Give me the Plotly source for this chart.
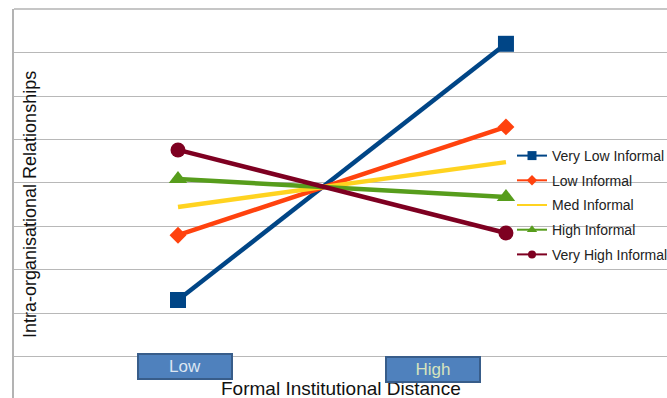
import plotly.graph_objects as go

# ---- data ----
categories = ["Low", "High"]
series_names = ["Very Low Informal", "Low Informal", "Med Informal", "High Informal", "Very High Informal"]
very_low = [1.31, 7.20]
low = [2.80, 5.29]
med = [3.45, 4.48]
high = [4.09, 3.68]
very_high = [4.76, 2.85]
y_title = "Intra-organisational Relationships"
x_title = "Formal Institutional Distance"

values = [very_low, low, med, high, very_high]
colors = ["#004586", "#ff420e", "#ffd320", "#579d1c", "#7e0021"]
symbols = ["square", "diamond", None, "triangle-up", "circle"]
sizes = [16, 13, 0, 16, 15]
leg_sizes = [9, 8, 0, 9, 8]

xpos = list(range(len(categories)))

# plot area spans page px x 14..667, y 9..398
PL, PT, PW, PH = 14, 9, 653, 389


def px(X):
    return (X - PL) / PW


def py(Y):
    return 1 - (Y - PT) / PH


fig = go.Figure()
for i, (name, vals) in enumerate(zip(series_names, values)):
    mk = dict(color=colors[i], size=sizes[i], symbol=symbols[i]) if symbols[i] else None
    fig.add_trace(go.Scatter(
        x=xpos, y=vals, mode="lines+markers" if mk else "lines",
        line=dict(color=colors[i], width=4.5), marker=mk,
        showlegend=False, hoverinfo="skip"))
for i, name in enumerate(series_names):
    mk = dict(color=colors[i], size=leg_sizes[i], symbol=symbols[i]) if symbols[i] else None
    fig.add_trace(go.Scatter(
        x=[None], y=[None], name=name, mode="lines+markers" if mk else "lines",
        line=dict(color=colors[i], width=2), marker=mk,
        legendgroup=name, showlegend=True))

fig.update_layout(
    width=667, height=398,
    margin=dict(l=14, r=0, t=9, b=0, autoexpand=False),
    plot_bgcolor="white", paper_bgcolor="white",
    font=dict(family="Liberation Sans, Arial, sans-serif", color="#000000"),
    xaxis=dict(range=[-0.5, 1.491], showgrid=False, zeroline=False,
               showticklabels=False, showline=False, ticks=""),
    yaxis=dict(range=[-0.943, 8.0], tickvals=list(range(0, 9)), showgrid=True,
               gridcolor="#b8b8b8", gridwidth=1.4, zeroline=False,
               showticklabels=False, showline=True, linecolor="#b3b3b3",
               linewidth=1.5, ticks=""),
    legend=dict(x=px(512), y=py(140), xanchor="left", yanchor="top",
                bgcolor="rgba(0,0,0,0)", font=dict(size=14, color="#222222"),
                tracegroupgap=3.5, traceorder="grouped"),
    showlegend=True,
)

# top border line
fig.add_shape(type="line", xref="paper", yref="paper", x0=0, x1=1, y0=1, y1=1,
              line=dict(color="#b3b3b3", width=1.5))

# axis titles
fig.add_annotation(text=y_title, xref="paper", yref="paper",
                   x=px(30), y=py(205), xanchor="center", yanchor="middle",
                   textangle=-90, showarrow=False,
                   font=dict(size=18, color="#111111"))
fig.add_annotation(text=x_title, xref="paper", yref="paper",
                   x=px(341), y=py(388), xanchor="center", yanchor="middle",
                   showarrow=False, font=dict(size=19, color="#111111"))

# category boxes
box_centers = [(185, 366), (433, 369)]
txt_colors = ["#dce6f2", "#d7e4bd"]
for lab, (cx, cy), tc in zip(categories, box_centers, txt_colors):
    fig.add_annotation(text=lab, xref="paper", yref="paper",
                       x=px(cx), y=py(cy),
                       xanchor="center", yanchor="middle", showarrow=False,
                       width=90, height=21, bgcolor="#4f81bd",
                       bordercolor="#385d8a", borderwidth=2,
                       font=dict(size=17, color=tc))

fig.write_html(
    "out.html",
    config={"displayModeBar": False},
    post_script="document.body.style.margin='0';document.body.style.overflow='hidden';",
)
